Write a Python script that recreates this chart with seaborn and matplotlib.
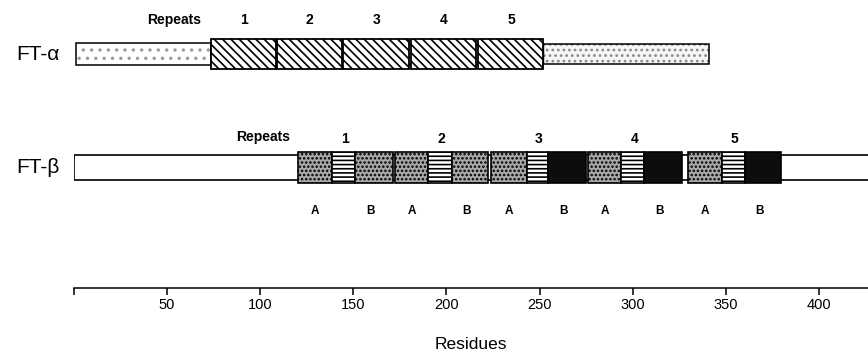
import numpy as np
import matplotlib
matplotlib.use("Agg")
import matplotlib.pyplot as plt
import seaborn as sns

# ==============================
# DATA (residue numbers)
# ==============================
alpha_span = (1, 341)
alpha_rep_start = [73.6, 109.0, 144.5, 181.1, 217.2]
alpha_rep_end = [108.5, 143.9, 180.0, 216.0, 252.1]
rep_names = ["1", "2", "3", "4", "5"]

beta_span = (0, 437)
beta_a_start = [120.3, 172.4, 224.0, 276.0, 329.7]
beta_stripe_start = [138.6, 190.1, 243.3, 293.8, 348.0]
beta_b_start = [150.9, 203.0, 254.6, 306.0, 360.4]
beta_b_end = [171.3, 222.3, 275.0, 326.5, 379.7]
beta_b_dark = [False, False, True, True, True]

xticks = [0, 50, 100, 150, 200, 250, 300, 350, 400]
xticklabels = ["", "50", "100", "150", "200", "250", "300", "350", "400"]

# ==============================
# STYLE
# ==============================
sns.set_style("ticks")
plt.rcParams["font.family"] = ["Liberation Sans", "DejaVu Sans"]
plt.rcParams["hatch.linewidth"] = 1.2
for k in ["text.color", "axes.labelcolor", "xtick.color", "axes.edgecolor"]:
    plt.rcParams[k] = "black"

W, H = 868, 352
fig = plt.figure(figsize=(W / 100, H / 100), dpi=100)
ax = fig.add_axes([74 / W, 1 - 288 / H, (W - 74) / W, 288 / H])
ax.set_xlim(0, 426.4)
ax.set_ylim(288, 0)

ya, yb = 54, 167.5

# FT-alpha: faint stippled ends, thin core, hatched repeats
ax.barh(ya, alpha_rep_start[0] - alpha_span[0], left=alpha_span[0], height=22,
        color="white", edgecolor="#9a9a9a", hatch="..", lw=0)
ax.barh(ya, alpha_span[1] - alpha_rep_end[-1], left=alpha_rep_end[-1], height=20,
        color="#f6f6f6", edgecolor="#8a8a8a", hatch="...", lw=0)
ax.barh(ya, alpha_rep_start[0] - alpha_span[0], left=alpha_span[0], height=22,
        color="none", edgecolor="black", lw=1.1)
ax.barh(ya, alpha_span[1] - alpha_rep_end[-1], left=alpha_rep_end[-1], height=20,
        color="none", edgecolor="black", lw=1.1)
ax.barh(ya, alpha_rep_end[-1] - alpha_rep_start[0], left=alpha_rep_start[0], height=20,
        color="white", edgecolor="black", lw=1.0)
ax.barh([ya] * 5, np.subtract(alpha_rep_end, alpha_rep_start), left=alpha_rep_start,
        height=30, color="white", edgecolor="black", hatch="\\\\\\\\", lw=1.3)
for s, e, n in zip(alpha_rep_start, alpha_rep_end, rep_names):
    ax.text((s + e) / 2, 20, n, ha="center", va="center", fontsize=10, fontweight="bold")
ax.text(53.7, 20, "Repeats", ha="center", va="center", fontsize=10, fontweight="bold")

# FT-beta
ax.barh(yb, beta_span[1] - beta_span[0], left=beta_span[0], height=25,
        color="white", edgecolor="black", lw=1.2)
ax.barh([yb] * 5, np.subtract(beta_stripe_start, beta_a_start), left=beta_a_start,
        height=31, color="#a8a8a8", edgecolor="black", hatch="....", lw=1.2)
ax.barh([yb] * 5, np.subtract(beta_b_start, beta_stripe_start), left=beta_stripe_start,
        height=31, color="white", edgecolor="black", hatch="----", lw=1.2)
for s, e, dark in zip(beta_b_start, beta_b_end, beta_b_dark):
    if dark:
        ax.barh(yb, e - s, left=s, height=31, color="#0d0d0d", edgecolor="black", lw=1.2)
    else:
        ax.barh(yb, e - s, left=s, height=31, color="#a8a8a8", edgecolor="black",
                hatch="....", lw=1.2)
for a, st, bs, be, n in zip(beta_a_start, beta_stripe_start, beta_b_start, beta_b_end, rep_names):
    ax.text((a + be) / 2, 139, n, ha="center", va="center", fontsize=10, fontweight="bold")
    ax.text((a + st) / 2, 211, "A", ha="center", va="center", fontsize=8.5, fontweight="bold")
    ax.text((bs + be) / 2 - 2, 211, "B", ha="center", va="center", fontsize=8.5, fontweight="bold")
ax.text(101.5, 137, "Repeats", ha="center", va="center", fontsize=10, fontweight="bold")

# row labels
ax.text(-7.5, ya, "FT-\u03b1", ha="right", va="center", fontsize=15, clip_on=False)
ax.text(-7.5, yb, "FT-\u03b2", ha="right", va="center", fontsize=15, clip_on=False)

# residue axis
sns.despine(ax=ax, left=True, right=True, top=True)
ax.set_yticks([])
ax.set_xticks(xticks)
ax.set_xticklabels(xticklabels, fontsize=10.5)
ax.tick_params(axis="x", direction="out", length=5, width=1.1, pad=2)
ax.spines["bottom"].set_linewidth(1.1)
ax.set_xlabel("Residues", fontsize=12.5, labelpad=18)

fig.savefig("out.png", dpi=100)
